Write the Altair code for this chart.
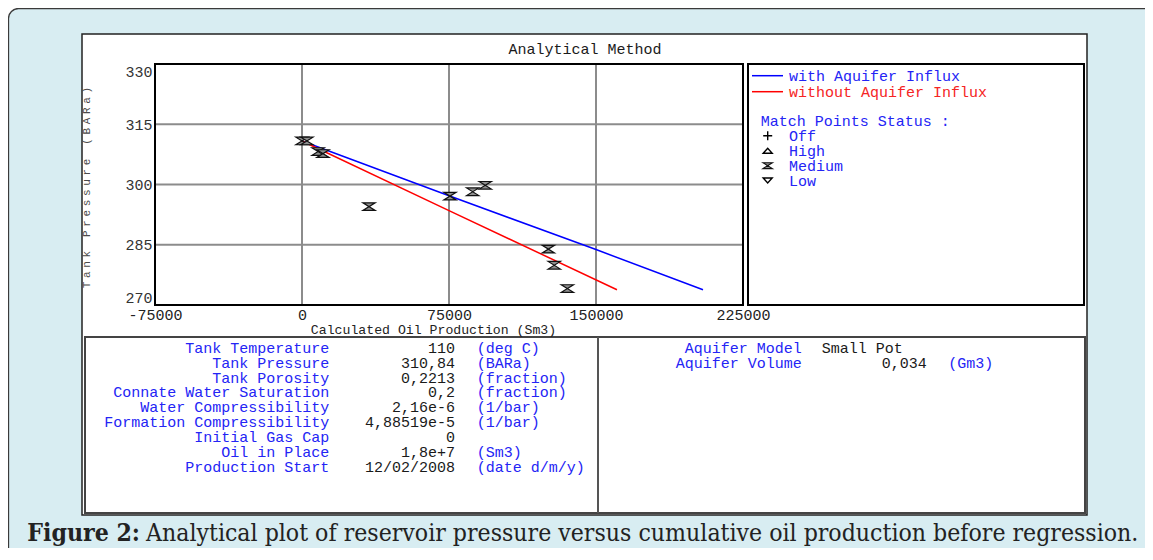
import altair as alt
import pandas as pd

MONO = "Liberation Mono"
SERIF = "DejaVu Serif Condensed, DejaVu Serif"

# ---------------- data ----------------
with_x = [0, 75000, 150000, 204600]
with_y = [310.84, 297.2, 283.8, 273.8]
without_x = [0, 75000, 160700]
without_y = [310.84, 293.5, 273.8]
series_names = ["with Aquifer Influx", "without Aquifer Influx"]
series_colors = ["#0000ff", "#ff0000"]

match_x = [0, 2500, 8200, 10700, 34200, 75500, 87100, 93500, 125700, 128700, 135400]
match_y = [310.84, 310.84, 308.2, 307.7, 294.5, 297.1, 298.2, 299.8, 283.9, 279.9, 274.1]

x_ticks = [-75000, 0, 75000, 150000, 225000]
y_ticks = [270, 285, 300, 315, 330]
x_grid = [0, 75000, 150000]
y_grid = [285, 300, 315]

status_title = "Match Points Status :"
status_names = ["Off", "High", "Medium", "Low"]

param_labels = ["Tank Temperature", "Tank Pressure", "Tank Porosity",
                "Connate Water Saturation", "Water Compressibility",
                "Formation Compressibility", "Initial Gas Cap", "Oil in Place",
                "Production Start"]
param_values = ["110", "310,84", "0,2213", "0,2", "2,16e-6", "4,88519e-5",
                "0", "1,8e+7", "12/02/2008"]
param_units = ["(deg C)", "(BARa)", "(fraction)", "(fraction)", "(1/bar)",
               "(1/bar)", "", "(Sm3)", "(date d/m/y)"]

aquifer_labels = ["Aquifer Model", "Aquifer Volume"]
aquifer_text_value = "Small Pot"
aquifer_num_value = "0,034"
aquifer_unit = "(Gm3)"

chart_title = "Analytical Method"
x_title = "Calculated Oil Production (Sm3)"
y_title = "Tank Pressure (BARa)"
caption_bold = "Figure 2:"
caption_text = ("Analytical plot of reservoir pressure versus cumulative oil "
                "production before regression.")

# ---------------- layout (pixels relative to the plot area) ----------------
W, H = 588, 241
BLUE_TXT = "#2424f5"
RED_TXT = "#f52424"
DARK_TXT = "#1a1a1a"
HOURGLASS = "M-1,-0.62L1,-0.62L-1,0.62L1,0.62Z"
PLUS = "M-1,0L1,0M0,-1L0,1"
TRI_UP = "M-1,0.55L1,0.55L0,-0.55Z"
TRI_DOWN = "M-1,-0.55L1,-0.55L0,0.55Z"

xs = alt.Scale(domain=[-75000, 225000], nice=False, zero=False)
ys = alt.Scale(domain=[270, 330], nice=False, zero=False)
one = pd.DataFrame({"k": [0]})

x_axis = alt.Axis(values=x_ticks, labelExpr="'' + datum.value", grid=False,
                  ticks=False, tickSize=0, domain=False, labelFont=MONO,
                  labelFontSize=15, labelColor="#222222", labelPadding=2,
                  labelFlush=False, labelOverlap=False, title=x_title,
                  titleFont=MONO, titleFontSize=13.2, titleFontWeight="normal",
                  titleColor="#222222", titleX=278, titleY=24.5,
                  titleAlign="center", titleBaseline="middle", zindex=1)
y_axis = alt.Axis(values=y_ticks, grid=False, ticks=False, tickSize=0,
                  domain=False, labelFont=MONO, labelFontSize=15,
                  labelColor="#333333", labelPadding=3, labelFlush=True,
                  labelOverlap=False, title=None, zindex=1)


def box(x, x2, y, y2, **kw):
    return alt.Chart(one).mark_rect(**kw).encode(
        x=alt.value(x), x2=alt.value(x2), y=alt.value(y), y2=alt.value(y2))


def texts(items, align, color, font=MONO, size=15, weight="normal", angle=0):
    df = pd.DataFrame(items, columns=["t", "px", "py"])
    return alt.Chart(df).mark_text(
        align=align, baseline="middle", font=font, fontSize=size,
        fontWeight=weight, color=color, angle=angle).encode(
        x=alt.X("px:Q", scale=None), y=alt.Y("py:Q", scale=None), text="t:N")


# backgrounds
bg_blue = box(-146.5, 1100, -55.5, 700, fill="#d8edf2", stroke="#3a3a3a",
              strokeWidth=1.3, cornerRadius=10)
panel = box(-73, 932, -30, 451, fill="white", stroke="#222222", strokeWidth=1.5)
table_box = box(-70, 930, 273, 449, fill="white", stroke="#444444", strokeWidth=2)
divider = alt.Chart(one).mark_rule(color="#555555", strokeWidth=2).encode(
    x=alt.value(443), y=alt.value(273), y2=alt.value(449))
legend_box = box(593, 929, 0, 241, fill="white", stroke="black", strokeWidth=2)

# grid through the scales
vgrid = alt.Chart(pd.DataFrame({"gx": x_grid})).mark_rule(
    color="#8c8c8c", strokeWidth=2).encode(
    x=alt.X("gx:Q", scale=xs, axis=x_axis), y=alt.value(0), y2=alt.value(H))
hgrid = alt.Chart(pd.DataFrame({"gy": y_grid})).mark_rule(
    color="#8c8c8c", strokeWidth=2).encode(
    y=alt.Y("gy:Q", scale=ys, axis=y_axis), x=alt.value(0), x2=alt.value(W))
frame = box(0, W, 0, H, fillOpacity=0, stroke="black", strokeWidth=2)

line_df = pd.DataFrame({
    "x": with_x + without_x,
    "y": with_y + without_y,
    "series": [series_names[0]] * len(with_x) + [series_names[1]] * len(without_x),
    "ord": list(range(len(with_x))) + list(range(len(without_x))),
})
lines = alt.Chart(line_df).mark_line(strokeWidth=1.5).encode(
    x=alt.X("x:Q", scale=xs, axis=x_axis),
    y=alt.Y("y:Q", scale=ys, axis=y_axis),
    color=alt.Color("series:N", scale=alt.Scale(domain=series_names,
                                                range=series_colors),
                    legend=None),
    order="ord:Q")

pts = alt.Chart(pd.DataFrame({"x": match_x, "y": match_y})).mark_point(
    shape=HOURGLASS, filled=True, fill="#8f8f8f", stroke="#111111",
    strokeWidth=1.2, size=150, opacity=1).encode(
    x=alt.X("x:Q", scale=xs, axis=x_axis), y=alt.Y("y:Q", scale=ys, axis=y_axis))

# y-axis title, drawn letter by letter with the wide letter spacing of the original
n_chars = len(y_title)
pitch = 10.25
ytitle = texts([(ch, -68, 123.5 + (n_chars - 1) / 2 * pitch - i * pitch)
                for i, ch in enumerate(y_title) if ch != " "],
               "center", "#4a4a4a", size=11, angle=270)

# legend (drawn by hand inside its box)
leg_lines = alt.Chart(pd.DataFrame({
    "px": [597, 597], "px2": [628, 628], "py": [11.7, 27.7],
    "c": series_colors})).mark_rule(strokeWidth=1.5).encode(
    x=alt.X("px:Q", scale=None), x2="px2:Q", y=alt.Y("py:Q", scale=None),
    color=alt.Color("c:N", scale=None))
leg_t1 = texts([(series_names[0], 634, 11.7)], "left", BLUE_TXT)
leg_t2 = texts([(series_names[1], 634, 27.7)], "left", RED_TXT)
leg_t3 = texts([(status_title, 605.7, 57.0)] +
               [(n, 634, yy) for n, yy in zip(status_names, [71.7, 86.7, 101.7, 116.5])],
               "left", BLUE_TXT)
leg_sym_open = alt.Chart(pd.DataFrame({
    "px": [612.7, 612.7, 612.7], "py": [71.7, 86.7, 116.5],
    "s": [PLUS, TRI_UP, TRI_DOWN]})).mark_point(
    filled=False, stroke="black", strokeWidth=1.4, size=81, opacity=1).encode(
    x=alt.X("px:Q", scale=None), y=alt.Y("py:Q", scale=None),
    shape=alt.Shape("s:N", scale=None))
leg_sym_med = alt.Chart(pd.DataFrame({"px": [612.7], "py": [101.7]})).mark_point(
    shape=HOURGLASS, filled=True, fill="#8f8f8f", stroke="#111111",
    strokeWidth=1.1, size=90, opacity=1).encode(
    x=alt.X("px:Q", scale=None), y=alt.Y("py:Q", scale=None))

# parameter table
row_y = [283.7 + 14.9 * i for i in range(len(param_labels))]
tab_lab = texts(list(zip(param_labels, [174.3] * 9, row_y)), "right", BLUE_TXT)
tab_val = texts(list(zip(param_values, [300.0] * 9, row_y)), "right", DARK_TXT)
tab_unit = texts([(u, 321.7, yy) for u, yy in zip(param_units, row_y) if u],
                 "left", BLUE_TXT)
aq_lab = texts(list(zip(aquifer_labels, [646.7] * 2, row_y[:2])), "right", BLUE_TXT)
aq_v1 = texts([(aquifer_text_value, 666.7, row_y[0])], "left", DARK_TXT)
aq_v2 = texts([(aquifer_num_value, 771.7, row_y[1])], "right", DARK_TXT)
aq_u = texts([(aquifer_unit, 793.3, row_y[1])], "left", BLUE_TXT)

title_txt = texts([(chart_title, 430, -15)], "center", DARK_TXT)
cap_b = texts([(caption_bold, -15, 469.5)], "right", "#222222", font=SERIF,
              size=24.6, weight="bold")
cap_r = texts([(caption_text, -9, 469.5)], "left", "#222222", font=SERIF,
              size=24.6)

chart = alt.layer(
    bg_blue, panel, table_box, divider, legend_box,
    vgrid, hgrid, frame, lines, pts, ytitle,
    leg_lines, leg_t1, leg_t2, leg_t3, leg_sym_open, leg_sym_med,
    tab_lab, tab_val, tab_unit, aq_lab, aq_v1, aq_v2, aq_u,
    title_txt, cap_b, cap_r,
).properties(
    width=W, height=H,
    autosize=alt.AutoSizeParams(type="none"),
    padding={"left": 147, "top": 56, "right": 402, "bottom": 243},
).configure(background="white").configure_view(stroke="transparent")

chart.save("out.html", embed_options={"renderer": "svg", "actions": False})
